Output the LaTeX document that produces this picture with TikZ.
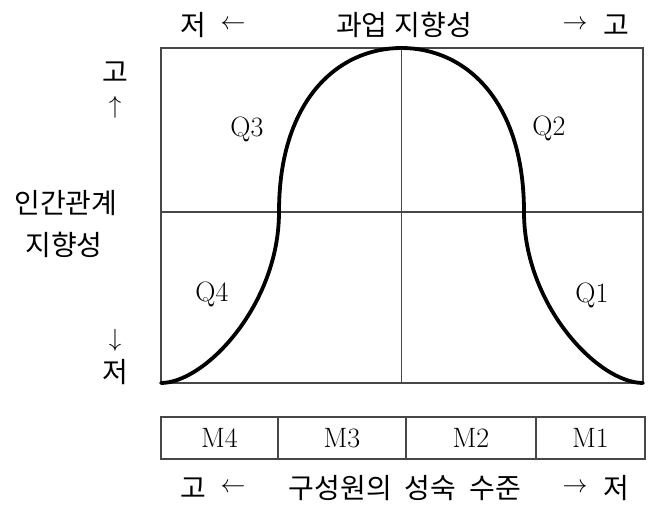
\documentclass[tikz,border=0pt]{standalone}
\usepackage{fontspec}
\newfontfamily\kr{Noto Sans CJK KR}
\begin{document}
\begin{tikzpicture}[x=1pt,y=-1pt,
  frame/.style={draw=black!72, line width=1.2pt},
  bell/.style={draw=black, line width=3.8pt, line cap=round},
  kor/.style={font=\kr\fontsize{28}{33}\selectfont, inner sep=0pt},
  lat/.style={font=\fontsize{28}{33}\selectfont, inner sep=0pt},
  arr/.style={font=\fontsize{25}{30}\selectfont, inner sep=0pt},
  cell/.style={frame, minimum height=42pt, inner sep=0pt, outer sep=0pt, anchor=north west, font=\fontsize{28}{33}\selectfont}]
\useasboundingbox (0,0) rectangle (649,505);
% main box
\coordinate (tl) at (161,48);
\coordinate (br) at (643,383);
\coordinate (tm) at (401.5,48);
\coordinate (bm) at (401.5,383);
\coordinate (ml) at (161,212);
\coordinate (mr) at (643,212);
\coordinate (bl) at (161,383);
\draw[frame] (tl) rectangle (br);
\draw[frame] (tm) -- (bm);
\draw[frame] (ml) -- (mr);
% bell curve
\draw[bell] (bl) .. controls (205,383) and (279,305) .. (279,212)
  .. controls (279,100) and (338,48) .. (tm)
  .. controls (465,48) and (524,100) .. (524,212)
  .. controls (524,305) and (598,383) .. (br);
% quadrant labels
\node[lat, anchor=base] (q3) at (247,137) {Q3};
\node[lat, anchor=base] (q2) at (549,136) {Q2};
\node[lat, anchor=base] (q4) at (212,302) {Q4};
\node[lat, anchor=base] (q1) at (592,303) {Q1};
% top labels
\node[kor] (tlow) at (193,25) {저};
\node[arr] (tla) at (233,25) {$\leftarrow$};
\node[kor] (ttitle) at (404,25) {과업\hspace{7pt}지향성};
\node[arr] (tra) at (575,25) {$\rightarrow$};
\node[kor] (thigh) at (616,25) {고};
% left labels
\node[kor] (lhigh) at (115,72) {고};
\node[arr] (lua) at (115,107) {$\uparrow$};
\node[kor] (lt1) at (66,203) {인간관계};
\node[kor] (lt2) at (64,245) {지향성};
\node[arr] (lda) at (115,340) {$\downarrow$};
\node[kor] (llow) at (115,372) {저};
% maturity cells
\node[cell, minimum width=117pt] (m4) at (161,417) {M4};
\node[cell, minimum width=128pt] (m3) at (m4.north east) {M3};
\node[cell, minimum width=130pt] (m2) at (m3.north east) {M2};
\node[cell, minimum width=109pt] (m1) at (m2.north east) {M1};
% bottom labels
\node[kor] (bhigh) at (193,488) {고};
\node[arr] (bla) at (233,488) {$\leftarrow$};
\node[kor] (btitle) at (405,488) {구성원의\hspace{13pt}성숙\hspace{13pt}수준};
\node[arr] (bra) at (575,488) {$\rightarrow$};
\node[kor] (blow) at (616,488) {저};
\end{tikzpicture}
\end{document}
